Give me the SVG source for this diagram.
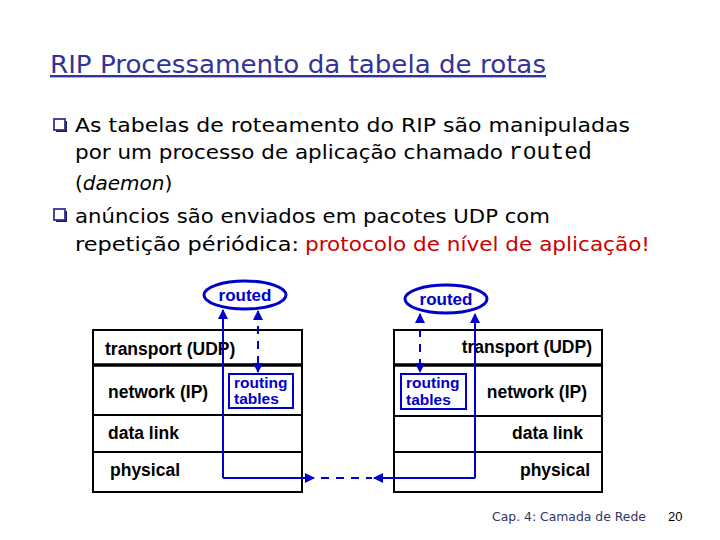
<svg xmlns="http://www.w3.org/2000/svg" width="720" height="540" viewBox="0 0 720 540">
<style>
.title{font-family:"DejaVu Sans","Liberation Sans",sans-serif;font-size:24px;fill:#333399;text-decoration:underline}
.body{font-family:"DejaVu Sans","Liberation Sans",sans-serif;font-size:20px;fill:#000}
.mono{font-family:"Liberation Mono","DejaVu Sans Mono",monospace;font-size:23px}
.red{fill:#cc0000}
.bul{fill:#fff;stroke:#333399;stroke-width:1.8}
.bulsh{fill:#1a1a4d}
.layer{font-family:"Liberation Sans",Arial,sans-serif;font-size:17.5px;font-weight:bold;fill:#000}
.stack{fill:#fff;stroke:#000;stroke-width:2}
.sep{stroke:#000;stroke-width:2}
.sepT{stroke:#000;stroke-width:3.5}
.blue{font-family:"Liberation Sans",Arial,sans-serif;font-weight:bold;fill:#0000cc}
.ell{fill:#fff;stroke:#0000cc;stroke-width:3}
.rt{fill:#fff;stroke:#0000cc;stroke-width:2}
.ln{fill:none;stroke:#0000cc;stroke-width:2}
.dash{fill:none;stroke:#0000cc;stroke-width:2;stroke-dasharray:8 7}
.foot{font-family:"DejaVu Sans","Liberation Sans",sans-serif;font-size:13px;fill:#333366}
</style>
<defs>
<marker id="ahB" viewBox="0 0 10 10" refX="9" refY="5" markerWidth="12" markerHeight="10" orient="auto-start-reverse" markerUnits="userSpaceOnUse">
<path d="M0,0 L10,5 L0,10 z" fill="#0000cc"/>
</marker>
</defs>

<text class="title" x="50" y="73" textLength="496" lengthAdjust="spacingAndGlyphs">RIP Processamento da tabela de rotas</text>

<g id="bullets">
<rect class="bulsh" x="56" y="121" width="11" height="11"/>
<rect class="bul" x="54" y="119" width="11" height="11"/>
<rect class="bulsh" x="56" y="211" width="11" height="11"/>
<rect class="bul" x="54" y="209" width="11" height="11"/>
</g>
<g id="text-body">
<text class="body" x="75" y="132" textLength="555" lengthAdjust="spacingAndGlyphs">As tabelas de roteamento do RIP são manipuladas</text>
<text class="body" x="75" y="159"><tspan textLength="428" lengthAdjust="spacingAndGlyphs">por um processo de aplicação chamado</tspan><tspan class="mono" x="509">routed</tspan></text>
<text class="body" x="75" y="190" font-size="18">(<tspan font-style="italic">daemon</tspan>)</text>
<text class="body" x="75" y="223" textLength="475" lengthAdjust="spacingAndGlyphs">anúncios são enviados em pacotes UDP com</text>
<text class="body" x="75" y="251"><tspan textLength="224" lengthAdjust="spacingAndGlyphs">repetição périódica:</tspan><tspan class="red" x="305" textLength="345" lengthAdjust="spacingAndGlyphs">protocolo de nível de aplicação!</tspan></text>
</g>

<g id="left-stack">
<rect class="stack" x="93" y="330" width="209" height="162"/>
<line class="sepT" x1="93" y1="365" x2="302" y2="365"/>
<line class="sep" x1="93" y1="415" x2="302" y2="415"/>
<line class="sep" x1="93" y1="452" x2="302" y2="452"/>
<text class="layer" x="105" y="355">transport (UDP)</text>
<text class="layer" x="108" y="398">network (IP)</text>
<text class="layer" x="108" y="439">data link</text>
<text class="layer" x="110" y="476">physical</text>
</g>
<g id="left-routed">
<ellipse class="ell" cx="245" cy="295" rx="41" ry="14"/>
<text class="blue" x="245" y="301" font-size="17" text-anchor="middle">routed</text>
</g>
<g id="left-tables">
<rect class="rt" x="229" y="374" width="64" height="34"/>
<text class="blue" x="234" y="388" font-size="15.5">routing</text>
<text class="blue" x="234" y="404" font-size="15.5">tables</text>
</g>

<g id="right-stack">
<rect class="stack" x="394" y="330" width="208" height="162"/>
<line class="sepT" x1="394" y1="365" x2="602" y2="365"/>
<line class="sep" x1="394" y1="416" x2="602" y2="416"/>
<line class="sep" x1="394" y1="452" x2="602" y2="452"/>
<text class="layer" x="592" y="353" text-anchor="end">transport (UDP)</text>
<text class="layer" x="587" y="398" text-anchor="end">network (IP)</text>
<text class="layer" x="583" y="439" text-anchor="end">data link</text>
<text class="layer" x="590" y="476" text-anchor="end">physical</text>
</g>
<g id="right-routed">
<ellipse class="ell" cx="446" cy="299" rx="41" ry="14"/>
<text class="blue" x="446" y="305" font-size="17" text-anchor="middle">routed</text>
</g>
<g id="right-tables">
<rect class="rt" x="401" y="374" width="65" height="35"/>
<text class="blue" x="406" y="388" font-size="15.5">routing</text>
<text class="blue" x="406" y="405" font-size="15.5">tables</text>
</g>

<g id="connectors">
<polyline class="ln" points="223,478 223,310" marker-end="url(#ahB)"/>
<polyline class="ln" points="223,478 314,478" marker-end="url(#ahB)"/>
<line class="dash" x1="321" y1="478" x2="372" y2="478"/>
<polyline class="ln" points="475,478 374,478" marker-end="url(#ahB)"/>
<polyline class="ln" points="475,478 475,314" marker-end="url(#ahB)"/>
<line class="dash" x1="258" y1="311" x2="258" y2="372" marker-start="url(#ahB)" marker-end="url(#ahB)" stroke-dasharray="7 6"/>
<line class="dash" x1="420" y1="314" x2="420" y2="372" marker-start="url(#ahB)" marker-end="url(#ahB)" stroke-dasharray="7 6"/>
</g>

<g id="footer">
<text class="foot" x="492" y="521" textLength="154" lengthAdjust="spacingAndGlyphs">Cap. 4: Camada de Rede</text>
<text x="668" y="521" font-family="Liberation Sans Narrow,Liberation Sans,sans-serif" font-size="13" fill="#000">20</text>
</g>
</svg>
